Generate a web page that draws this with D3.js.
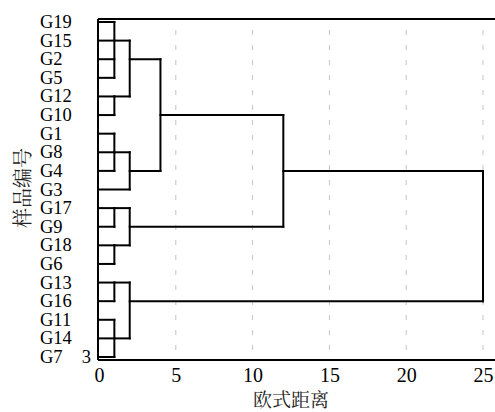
<!DOCTYPE html>
<html>
<head>
<meta charset="utf-8">
<script src="https://cdn.jsdelivr.net/npm/d3@7"></script>
<style>
  html, body { margin: 0; padding: 0; background: #fff; }
  svg { display: block; }
</style>
</head>
<body>
<svg id="chart" width="495" height="412"></svg>
<script>
// ---- data ----
const leafLabels = ["G19","G15","G2","G5","G12","G10","G1","G8","G4","G3",
                    "G17","G9","G18","G6","G13","G16","G11","G14","G7"];
// merge nodes: name, children (leaf labels or node names), merge distance, row where its link leaves
const mergeNames    = ["a","b","ab","c","cd","abcd","e","f","ef","upper","g","h","gh","root"];
const mergeChildren = [["G19","G15","G2","G5"],["G12","G10"],["a","b"],["G1","G8","G4"],["c","G3"],
                       ["ab","cd"],["G17","G9"],["G18","G6"],["e","f"],["abcd","ef"],
                       ["G13","G16"],["G11","G14","G7"],["g","h"],["upper","gh"]];
const mergeHeights  = [1,1,2,1,2,4,1,1,2,12,1,1,2,25];
const mergeRows     = ["G15","G12","G2","G8","G4","G10","G17","G18","G9","G4","G13","G14","G16",null];
const xTicks = [0,5,10,15,20,25];
const xTitle = "欧式距离";
const yTitle = "样品编号";
const strayLabel = "3";

// ---- layout ----
const SERIF = "'Liberation Serif', 'Times New Roman', serif";
const CJK = "'Noto Serif CJK SC', 'Noto Sans CJK SC', serif";
const svg = d3.select("#chart");
const pLeft = 99, pRight = 483, pTop = 19, pBottom = 360;
const x = d3.scaleLinear().domain([0,25]).range([pLeft, pRight]);
const y = d3.scalePoint().domain(leafLabels).range([22, 357]);

// grid
svg.append("g").selectAll("line").data(xTicks.filter(d => d > 0)).join("line")
  .attr("x1", d => x(d)).attr("x2", d => x(d))
  .attr("y1", 30).attr("y2", pBottom)
  .attr("stroke", "#c4c4c4").attr("stroke-width", 1)
  .attr("stroke-dasharray", "5,10");

// nodes
const nodes = {};
leafLabels.forEach(l => nodes[l] = {h: 0, row: l});
mergeNames.forEach((n, i) => nodes[n] = {h: mergeHeights[i], row: mergeRows[i], children: mergeChildren[i]});

const segs = [];
mergeNames.forEach((n, i) => {
  const node = nodes[n];
  const rows = node.children.map(c => y(nodes[c].row));
  segs.push([x(node.h), d3.min(rows), x(node.h), d3.max(rows)]);
  node.children.forEach(c => {
    const ch = nodes[c];
    segs.push([x(ch.h) - (ch.h === 0 ? 1 : 0), y(ch.row), x(node.h), y(ch.row)]);
  });
});

svg.append("g").selectAll("line").data(segs).join("line")
  .attr("x1", d => d[0]).attr("y1", d => d[1])
  .attr("x2", d => d[2]).attr("y2", d => d[3])
  .attr("stroke", "#000").attr("stroke-width", 2)
  .attr("stroke-linecap", "square");

// frame: top line, left axis, bottom axis
svg.append("line").attr("x1", pLeft - 1).attr("x2", 495).attr("y1", pTop).attr("y2", pTop)
  .attr("stroke", "#000").attr("stroke-width", 2);
svg.append("line").attr("x1", pLeft - 1).attr("x2", pLeft - 1).attr("y1", pTop).attr("y2", pBottom)
  .attr("stroke", "#000").attr("stroke-width", 2);
const xAxis = d3.axisBottom(x).tickValues(xTicks).tickSize(0).tickPadding(8).tickFormat(d3.format("d"));
const gx = svg.append("g").attr("transform", `translate(0,${pBottom})`).call(xAxis);
gx.attr("font-family", SERIF).attr("font-size", 20);
gx.select(".domain").remove();
gx.selectAll("text").style("font-family", SERIF).style("font-size", "20px").attr("fill", "#000");
svg.append("line").attr("x1", pLeft - 1).attr("x2", 495).attr("y1", pBottom).attr("y2", pBottom)
  .attr("stroke", "#000").attr("stroke-width", 2);

// leaf labels
svg.append("g").selectAll("text").data(leafLabels).join("text")
  .style("font-family", SERIF)
  .attr("x", 40).attr("y", d => y(d) + 6)
  .style("font-size", "18.5px")
  .text(d => d);

svg.append("text").style("font-family", SERIF)
  .attr("x", 91).attr("y", 363).attr("text-anchor", "end")
  .style("font-size", "18.5px").text(strayLabel);

// titles
svg.append("text").style("font-family", CJK).attr("fill", "#222")
  .attr("x", 291).attr("y", 407).attr("text-anchor", "middle")
  .style("font-size", "19px").text(xTitle);
svg.append("text").style("font-family", CJK).attr("fill", "#222")
  .attr("transform", "translate(30,188) rotate(-90)")
  .attr("text-anchor", "middle")
  .style("font-size", "20px").text(yTitle);
</script>
</body>
</html>
